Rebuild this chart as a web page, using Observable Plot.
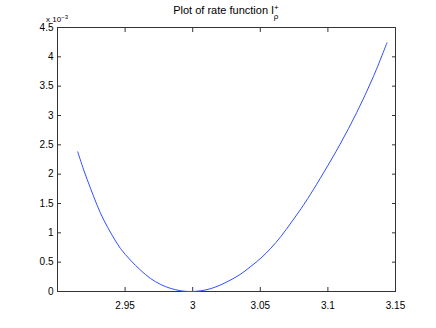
<!DOCTYPE html>
<html><head><meta charset="utf-8">
<script src="https://cdn.jsdelivr.net/npm/d3@7"></script>
<script src="https://cdn.jsdelivr.net/npm/@observablehq/plot@0.6"></script>
<style>
body{margin:0;background:#fff;}
#chart svg{display:block;}
</style>
</head><body>
<div id="chart"></div>
<script>
const rho = [2.915, 2.9194, 2.9244, 2.9293, 2.9342, 2.9404, 2.9465, 2.9539, 2.9613, 2.9687, 2.9761, 2.9835, 2.9908, 2.997,
             3.0061, 3.0135, 3.0209, 3.0283, 3.0357, 3.0431, 3.0505, 3.0579, 3.0653, 3.0727, 3.0801, 3.0869, 3.0967, 3.109, 3.1213, 3.1336, 3.1437];
const rate = [2.38, 2.07, 1.76, 1.47, 1.22, 0.96, 0.735, 0.536, 0.366, 0.224, 0.122, 0.054, 0.014, 0.0,
              0.012, 0.05, 0.115, 0.2, 0.30, 0.43, 0.57, 0.74, 0.94, 1.17, 1.41, 1.65, 2.02, 2.51, 3.05, 3.66, 4.24];
const xTicks = [2.95, 3, 3.05, 3.1, 3.15];
const yTicks = [0, 0.5, 1, 1.5, 2, 2.5, 3, 3.5, 4, 4.5];
const titleText = "Plot of rate function I";
const exponentText = "x 10";

const data = rho.map((r, i) => ({rho: r, rate: rate[i]}));
const font = "Liberation Sans, Arial, sans-serif";

const plot = Plot.plot({
  width: 436,
  height: 328,
  marginLeft: 57,
  marginRight: 41,
  marginTop: 27,
  marginBottom: 37,
  style: {fontFamily: font, fontSize: "10px", color: "#000", background: "#fff"},
  x: {domain: [2.9, 3.15]},
  y: {domain: [0, 4.5]},
  marks: [
    Plot.frame({stroke: "#333", strokeWidth: 1}),
    Plot.axisX({ticks: xTicks, anchor: "bottom", tickSize: -4, tickPadding: 14, label: null, tickFormat: d => String(d), stroke: "#333"}),
    Plot.axisX({ticks: xTicks, anchor: "top", tickSize: -4, tickFormat: () => "", label: null, stroke: "#333"}),
    Plot.axisY({ticks: yTicks, anchor: "left", tickSize: -4, tickPadding: 8, label: null, tickFormat: d => String(d), stroke: "#333"}),
    Plot.axisY({ticks: yTicks, anchor: "right", tickSize: -4, tickFormat: () => "", label: null, stroke: "#333"}),
    Plot.line(data, {x: "rho", y: "rate", stroke: "#3050ff", strokeWidth: 1, curve: "catmull-rom"})
  ]
});

const svg = d3.select(plot);
const t = svg.append("text")
  .attr("x", 226).attr("y", 14)
  .attr("text-anchor", "middle")
  .attr("font-family", font).attr("font-size", 11).attr("fill", "#000");
t.append("tspan").text(titleText);
t.append("tspan").attr("font-size", 8).attr("dy", -4).text("+");
t.append("tspan").attr("font-size", 8).attr("dx", -5).attr("dy", 9).text("ρ");

const e = svg.append("text")
  .attr("x", 57).attr("y", 21.5)
  .attr("font-family", font).attr("font-size", 8).attr("fill", "#000");
e.append("tspan").text(exponentText);
e.append("tspan").attr("font-size", 6).attr("dy", -3).text("−3");

document.getElementById("chart").appendChild(plot);
</script>
</body></html>
